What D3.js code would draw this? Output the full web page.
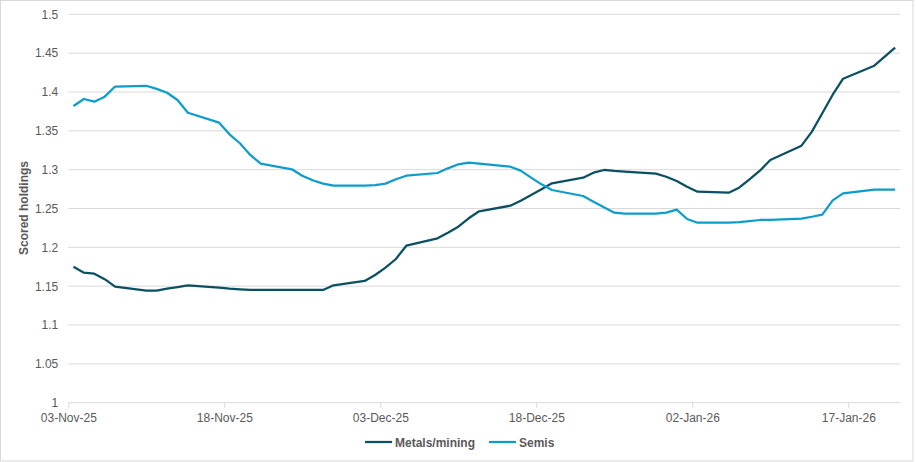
<!DOCTYPE html>
<html>
<head>
<meta charset="utf-8">
<script src="https://cdn.jsdelivr.net/npm/d3@7"></script>
<style>
  html, body { margin: 0; padding: 0; background: #fff; }
  svg { display: block; font-family: "Liberation Sans", Arial, sans-serif; }
</style>
</head>
<body>
<svg id="chart" width="916" height="462"></svg>
<script>
const dates = [
  "2025-11-03","2025-11-04","2025-11-05","2025-11-06","2025-11-07",
  "2025-11-10","2025-11-11","2025-11-12","2025-11-13","2025-11-14",
  "2025-11-17","2025-11-18","2025-11-19","2025-11-20","2025-11-21",
  "2025-11-24","2025-11-25","2025-11-26","2025-11-27","2025-11-28",
  "2025-12-01","2025-12-02","2025-12-03","2025-12-04","2025-12-05",
  "2025-12-08","2025-12-09","2025-12-10","2025-12-11","2025-12-12",
  "2025-12-15","2025-12-16","2025-12-17","2025-12-18","2025-12-19",
  "2025-12-22","2025-12-23","2025-12-24","2025-12-25","2025-12-26",
  "2025-12-29","2025-12-30","2025-12-31","2026-01-01","2026-01-02",
  "2026-01-05","2026-01-06","2026-01-07","2026-01-08","2026-01-09",
  "2026-01-12","2026-01-13","2026-01-14","2026-01-15","2026-01-16",
  "2026-01-19","2026-01-20","2026-01-21"
];

const metalsMining = [
  1.175, 1.1674, 1.1661, 1.159, 1.1494,
  1.1442, 1.1442, 1.1468, 1.1489, 1.1511,
  1.148, 1.1468, 1.146, 1.1451, 1.1451,
  1.1451, 1.1451, 1.1451, 1.1451, 1.1511,
  1.1567, 1.1644, 1.1738, 1.185, 1.2021,
  1.2116, 1.2189, 1.2266, 1.2374, 1.2464,
  1.2536, 1.26, 1.2674, 1.2747, 1.2824,
  1.2897, 1.2961, 1.2996, 1.2983, 1.2974,
  1.2948, 1.2909, 1.2854, 1.2781, 1.2716,
  1.2703, 1.2768, 1.2876, 1.2987, 1.3124,
  1.3309, 1.3489, 1.3726, 1.3965, 1.4171,
  1.4338, 1.4454, 1.457
];

const semis = [
  1.382, 1.391, 1.3875, 1.394, 1.407,
  1.408, 1.404, 1.399, 1.3897, 1.3733,
  1.3605, 1.3455, 1.334, 1.319, 1.3077,
  1.3005, 1.2922, 1.2863, 1.282, 1.2794,
  1.2794, 1.28, 1.282, 1.2876, 1.2922,
  1.2957, 1.3017, 1.3069, 1.309, 1.3077,
  1.3038, 1.2987, 1.2897, 1.2811, 1.2738,
  1.2661, 1.2588, 1.2515, 1.2446, 1.2433,
  1.2433, 1.2446, 1.2485, 1.2365, 1.2317,
  1.2317, 1.2325, 1.2338, 1.2352, 1.2355,
  1.2369, 1.2394, 1.242, 1.2605, 1.2695,
  1.2742, 1.2742, 1.2742
];

const xTickDates = ["2025-11-03","2025-11-18","2025-12-03","2025-12-18","2026-01-02","2026-01-17"];
const yTicks = [1, 1.05, 1.1, 1.15, 1.2, 1.25, 1.3, 1.35, 1.4, 1.45, 1.5];
const seriesNames = ["Metals/mining", "Semis"];
const seriesColors = ["#0b4f63", "#0e9ccc"];
const yTitle = "Scored holdings";

(function () {
const parse = d3.utcParse("%Y-%m-%d");
const fmtDate = d3.utcFormat("%d-%b-%y");

const svg = d3.select("#chart");
const plotLeft = 68.3, plotRight = 900.3, plotTop = 14.3, plotBottom = 402.7;

// border
svg.append("rect").attr("x", 0.5).attr("y", 0.5).attr("width", 912.5).attr("height", 460.5)
  .attr("fill", "#fff").attr("stroke", "#d9d9d9").attr("stroke-width", 1);

const x = d3.scaleUtc()
  .domain([parse("2025-11-03"), parse("2026-01-22")])
  .range([plotLeft, plotRight]);
const y = d3.scaleLinear().domain([1, 1.5]).range([plotBottom, plotTop]);

// gridlines
svg.append("g").selectAll("line").data(yTicks.filter(t => t > 1)).join("line")
  .attr("x1", plotLeft).attr("x2", plotRight)
  .attr("y1", d => y(d)).attr("y2", d => y(d))
  .attr("stroke", "#d9d9d9").attr("stroke-width", 1);

// y axis labels
const yAxis = d3.axisLeft(y).tickValues(yTicks).tickSize(0).tickPadding(10)
  .tickFormat(d => String(+d.toFixed(2)));
const gy = svg.append("g").attr("transform", `translate(${plotLeft},0)`).call(yAxis);
gy.select(".domain").remove();
gy.selectAll("text").attr("fill", "#595959").style("font-size", "12px")
  .style("font-family", "'Liberation Sans', Arial, sans-serif");

// x axis
const xAxis = d3.axisBottom(x).tickValues(xTickDates.map(parse)).tickSize(5).tickPadding(6)
  .tickFormat(fmtDate);
const gx = svg.append("g").attr("transform", `translate(0,${plotBottom})`).call(xAxis);
gx.select(".domain").attr("stroke", "#d9d9d9").attr("d", `M${plotLeft},0H${plotRight}`);
gx.selectAll(".tick line").attr("stroke", "#d9d9d9");
gx.selectAll("text").attr("fill", "#595959").style("font-size", "12px")
  .style("font-family", "'Liberation Sans', Arial, sans-serif");

// y title
svg.append("text")
  .attr("transform", `translate(28,208) rotate(-90)`)
  .attr("text-anchor", "middle")
  .attr("fill", "#595959").style("font-size", "12px").style("font-weight", "bold")
  .text(yTitle);

// lines
const halfDay = 12 * 3600 * 1000;
const line = d3.line()
  .x(d => x(new Date(d.date.getTime() + halfDay)))
  .y(d => y(d.value));
const series = [metalsMining, semis];
series.forEach((vals, i) => {
  const data = dates.map((d, j) => ({ date: parse(d), value: vals[j] }));
  svg.append("path").datum(data)
    .attr("fill", "none").attr("stroke", seriesColors[i])
    .attr("stroke-width", 2.25).attr("stroke-linejoin", "round")
    .attr("d", line);
});

// legend
const legendX = [365, 489];
const legend = svg.append("g");
seriesNames.forEach((name, i) => {
  legend.append("line").attr("x1", legendX[i]).attr("x2", legendX[i] + 27)
    .attr("y1", 442).attr("y2", 442)
    .attr("stroke", seriesColors[i]).attr("stroke-width", 2.25);
  legend.append("text").attr("x", legendX[i] + 30).attr("y", 446.5)
    .attr("fill", "#595959").style("font-size", "12px").style("font-weight", "bold")
    .text(name);
});
})();
</script>
</body>
</html>
